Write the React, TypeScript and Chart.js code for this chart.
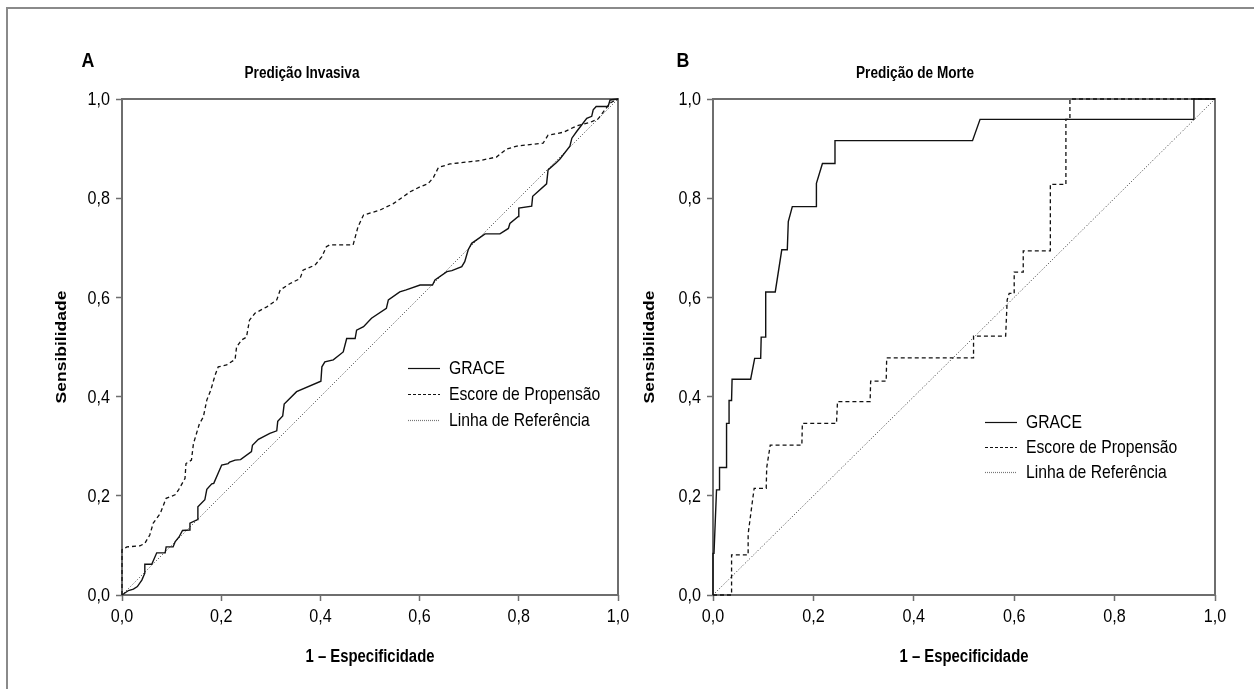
import React, { useEffect, useRef } from 'react';
import { Chart, registerables } from 'chart.js';

Chart.register(...registerables);

// ---------- data ----------
const tickValues = [0, 0.2, 0.4, 0.6, 0.8, 1.0];
const tickLabels = ['0,0', '0,2', '0,4', '0,6', '0,8', '1,0'];
const seriesNames = ['GRACE', 'Escore de Propensão', 'Linha de Referência'];
const xAxisTitle = '1 – Especificidade';
const yAxisTitle = 'Sensibilidade';
const panelLetters = ['A', 'B'];
const panelTitles = ['Predição Invasiva', 'Predição de Morte'];

const graceA_fpr = [0, 0.013, 0.023, 0.031, 0.040, 0.046, 0.046, 0.060, 0.070, 0.087, 0.089, 0.103, 0.107, 0.115, 0.122, 0.136, 0.137, 0.152, 0.153, 0.167, 0.171, 0.181, 0.185, 0.201, 0.214, 0.217, 0.228, 0.239, 0.261, 0.263, 0.275, 0.298, 0.312, 0.314, 0.324, 0.327, 0.352, 0.401, 0.403, 0.409, 0.426, 0.446, 0.453, 0.470, 0.473, 0.487, 0.503, 0.533, 0.537, 0.560, 0.573, 0.601, 0.626, 0.631, 0.655, 0.665, 0.685, 0.691, 0.698, 0.705, 0.732, 0.762, 0.779, 0.782, 0.799, 0.800, 0.826, 0.828, 0.856, 0.859, 0.876, 0.883, 0.903, 0.907, 0.917, 0.937, 0.947, 0.950, 0.956, 0.980, 0.984, 1];
const graceA_tpr = [0, 0.009, 0.012, 0.017, 0.030, 0.044, 0.062, 0.062, 0.085, 0.085, 0.097, 0.097, 0.107, 0.117, 0.130, 0.131, 0.145, 0.152, 0.178, 0.192, 0.213, 0.224, 0.225, 0.262, 0.265, 0.268, 0.272, 0.273, 0.289, 0.302, 0.314, 0.326, 0.331, 0.350, 0.361, 0.385, 0.410, 0.431, 0.460, 0.470, 0.474, 0.490, 0.517, 0.517, 0.534, 0.541, 0.558, 0.578, 0.595, 0.611, 0.615, 0.625, 0.625, 0.635, 0.652, 0.654, 0.662, 0.672, 0.696, 0.709, 0.728, 0.728, 0.739, 0.749, 0.763, 0.780, 0.784, 0.804, 0.829, 0.857, 0.872, 0.879, 0.905, 0.921, 0.935, 0.961, 0.965, 0.978, 0.985, 0.985, 0.998, 1];

const escoreA_fpr = [0, 0, 0.010, 0.036, 0.046, 0.056, 0.063, 0.077, 0.089, 0.107, 0.114, 0.127, 0.129, 0.140, 0.144, 0.156, 0.164, 0.171, 0.179, 0.185, 0.188, 0.194, 0.211, 0.228, 0.231, 0.241, 0.251, 0.257, 0.268, 0.292, 0.312, 0.319, 0.339, 0.359, 0.365, 0.389, 0.403, 0.412, 0.419, 0.466, 0.476, 0.487, 0.520, 0.547, 0.581, 0.601, 0.617, 0.628, 0.638, 0.661, 0.722, 0.755, 0.775, 0.796, 0.849, 0.859, 0.890, 0.917, 0.944, 0.960, 0.984, 1];
const escoreA_tpr = [0, 0.091, 0.097, 0.099, 0.104, 0.121, 0.145, 0.164, 0.195, 0.202, 0.212, 0.235, 0.265, 0.272, 0.305, 0.345, 0.359, 0.393, 0.413, 0.434, 0.444, 0.460, 0.464, 0.475, 0.500, 0.514, 0.520, 0.554, 0.568, 0.581, 0.595, 0.615, 0.628, 0.638, 0.655, 0.665, 0.682, 0.702, 0.706, 0.706, 0.743, 0.766, 0.776, 0.789, 0.813, 0.823, 0.829, 0.842, 0.862, 0.869, 0.876, 0.883, 0.899, 0.905, 0.911, 0.927, 0.933, 0.946, 0.953, 0.960, 0.992, 1];

const graceB_fpr = [0, 0, 0.002, 0.007, 0.013, 0.013, 0.026, 0.027, 0.032, 0.032, 0.037, 0.038, 0.075, 0.083, 0.095, 0.096, 0.104, 0.105, 0.124, 0.137, 0.148, 0.150, 0.158, 0.206, 0.206, 0.218, 0.242, 0.243, 0.517, 0.532, 0.958, 0.958, 1];
const graceB_tpr = [0, 0.084, 0.084, 0.212, 0.212, 0.257, 0.257, 0.346, 0.346, 0.392, 0.392, 0.435, 0.435, 0.477, 0.477, 0.520, 0.520, 0.611, 0.611, 0.696, 0.696, 0.753, 0.783, 0.783, 0.830, 0.870, 0.870, 0.916, 0.916, 0.959, 0.959, 1.0, 1];

const escoreB_fpr = [0, 0.037, 0.037, 0.070, 0.070, 0.078, 0.082, 0.106, 0.107, 0.114, 0.177, 0.178, 0.246, 0.248, 0.313, 0.314, 0.345, 0.346, 0.519, 0.519, 0.583, 0.586, 0.590, 0.600, 0.600, 0.618, 0.618, 0.672, 0.672, 0.703, 0.703, 0.711, 0.711, 1];
const escoreB_tpr = [0, 0, 0.081, 0.081, 0.123, 0.185, 0.215, 0.215, 0.257, 0.302, 0.302, 0.346, 0.346, 0.390, 0.390, 0.431, 0.431, 0.478, 0.478, 0.522, 0.522, 0.595, 0.608, 0.608, 0.651, 0.651, 0.694, 0.694, 0.828, 0.828, 0.959, 0.959, 1.0, 1];

const ref_fpr = [0, 1];
const ref_tpr = [0, 1];

// ---------- styling ----------
const FONT = "'Liberation Sans', Arial, sans-serif";
const SX = 0.85; // horizontal condensing of text (the figure is horizontally squeezed)
const AXIS_GRAY = '#6e6e6e';
const CANVAS_H = 689;
const PLOT_TOP = 99;
const PLOT_BOTTOM = 595;

const toPoints = (xs: number[], ys: number[]) => xs.map((x, i) => ({ x, y: ys[i] }));

type Panel = {
  canvasLeft: number;
  width: number;
  plotLeft: number;
  plotRight: number;
  yTitleCenter: number;
  letterPos: [number, number];
  titlePos: [number, number];
  legendLine: [number, number];
  legendTextX: number;
  legendRows: number[];
  letter: string;
  title: string;
  grace: { x: number[]; y: number[] };
  escore: { x: number[]; y: number[] };
};

const panels: Panel[] = [
  {
    canvasLeft: 0, width: 630, plotLeft: 122, plotRight: 618, yTitleCenter: 62,
    letterPos: [88, 61], titlePos: [302, 74],
    legendLine: [408, 440], legendTextX: 449, legendRows: [368, 394, 420],
    letter: panelLetters[0], title: panelTitles[0],
    grace: { x: graceA_fpr, y: graceA_tpr }, escore: { x: escoreA_fpr, y: escoreA_tpr },
  },
  {
    canvasLeft: 630, width: 624, plotLeft: 83, plotRight: 585, yTitleCenter: 20,
    letterPos: [53, 61], titlePos: [285, 74],
    legendLine: [355, 387], legendTextX: 396, legendRows: [422, 447, 472],
    letter: panelLetters[1], title: panelTitles[1],
    grace: { x: graceB_fpr, y: graceB_tpr }, escore: { x: escoreB_fpr, y: escoreB_tpr },
  },
];

function drawText(
  ctx: CanvasRenderingContext2D, text: string, x: number, y: number,
  font: string, align: CanvasTextAlign, rotation = 0,
) {
  ctx.save();
  ctx.translate(x, y);
  ctx.scale(SX, 1);
  if (rotation) ctx.rotate(rotation);
  ctx.font = font;
  ctx.fillStyle = '#000';
  ctx.textAlign = align;
  ctx.textBaseline = 'middle';
  ctx.fillText(text, 0, 0);
  ctx.restore();
}

const decorPlugin = {
  id: 'decor',
  beforeDatasetsDraw(chart: any) {
    const { ctx, chartArea: a } = chart;
    ctx.save();
    ctx.strokeStyle = AXIS_GRAY;
    ctx.lineWidth = 2;
    ctx.strokeRect(a.left, a.top, a.right - a.left, a.bottom - a.top);
    ctx.restore();
  },
  afterDraw(chart: any, _args: any, opts: any) {
    const p: Panel = opts.panel;
    const ctx: CanvasRenderingContext2D = chart.ctx;
    const a = chart.chartArea;
    const xs = chart.scales.x;
    const ys = chart.scales.y;

    // panel letter & title
    drawText(ctx, p.letter, p.letterPos[0], p.letterPos[1], `bold 21px ${FONT}`, 'center');
    drawText(ctx, p.title, p.titlePos[0], p.titlePos[1], `bold 16px ${FONT}`, 'center');

    // tick labels placed through the library scales
    tickValues.forEach((v, i) => {
      drawText(ctx, tickLabels[i], xs.getPixelForValue(v), a.bottom + 22, `19px ${FONT}`, 'center');
      drawText(ctx, tickLabels[i], a.left - 12, ys.getPixelForValue(v) + 1, `19px ${FONT}`, 'right');
    });

    // axis titles
    drawText(ctx, xAxisTitle, (a.left + a.right) / 2, 657, `bold 17.5px ${FONT}`, 'center');
    drawText(ctx, yAxisTitle, p.yTitleCenter, (a.top + a.bottom) / 2, `bold 17.5px ${FONT}`, 'center', -Math.PI / 2);

    // legend
    const dashes = [[], [3, 2], [1, 1]];
    const colors = ['#111', '#111', '#777'];
    seriesNames.forEach((name, i) => {
      const y = p.legendRows[i];
      ctx.save();
      ctx.beginPath();
      ctx.setLineDash(dashes[i]);
      ctx.strokeStyle = colors[i];
      ctx.lineWidth = 1.2;
      ctx.moveTo(p.legendLine[0], y + 0.5);
      ctx.lineTo(p.legendLine[1], y + 0.5);
      ctx.stroke();
      ctx.restore();
      drawText(ctx, name, p.legendTextX, y + 1, `18.5px ${FONT}`, 'left');
    });
  },
};

function buildConfig(p: Panel): any {
  return {
    type: 'line',
    data: {
      datasets: [
        {
          label: seriesNames[0], data: toPoints(p.grace.x, p.grace.y),
          borderColor: '#111', borderWidth: 1.4, pointRadius: 0, tension: 0, fill: false, clip: false,
        },
        {
          label: seriesNames[1], data: toPoints(p.escore.x, p.escore.y),
          borderColor: '#111', borderWidth: 1.3, borderDash: [4, 3], pointRadius: 0, tension: 0, fill: false, clip: false,
        },
        {
          label: seriesNames[2], data: toPoints(ref_fpr, ref_tpr),
          borderColor: '#333', borderWidth: 1, borderDash: [1, 2], pointRadius: 0, tension: 0, fill: false, clip: false,
        },
      ],
    },
    options: {
      animation: false,
      responsive: false,
      events: [],
      layout: { padding: { left: 0, top: PLOT_TOP, right: p.width - p.plotRight, bottom: 0 } },
      plugins: {
        legend: { display: false },
        tooltip: { enabled: false },
        title: { display: false },
        decor: { panel: p },
      },
      scales: {
        x: {
          type: 'linear', min: 0, max: 1,
          afterBuildTicks: (s: any) => { s.ticks = tickValues.map((v) => ({ value: v })); },
          afterFit: (s: any) => { s.height = CANVAS_H - PLOT_BOTTOM; s.paddingLeft = 0; s.paddingRight = 0; },
          ticks: { display: false },
          grid: { drawOnChartArea: false, drawTicks: true, tickLength: 6, tickColor: AXIS_GRAY, tickWidth: 1.5 },
          border: { display: false },
          title: { display: false },
        },
        y: {
          type: 'linear', min: 0, max: 1,
          afterBuildTicks: (s: any) => { s.ticks = tickValues.map((v) => ({ value: v })); },
          afterFit: (s: any) => { s.width = p.plotLeft; s.paddingTop = 0; s.paddingBottom = 0; },
          ticks: { display: false },
          grid: { drawOnChartArea: false, drawTicks: true, tickLength: 6, tickColor: AXIS_GRAY, tickWidth: 1.5 },
          border: { display: false },
          title: { display: false },
        },
      },
    },
    plugins: [decorPlugin],
  };
}

function RocPanel({ panel }: { panel: Panel }) {
  const ref = useRef<HTMLCanvasElement | null>(null);
  useEffect(() => {
    if (!ref.current) return;
    const chart = new Chart(ref.current, buildConfig(panel));
    return () => chart.destroy();
  }, [panel]);
  return (
    <canvas
      ref={ref}
      width={panel.width}
      height={CANVAS_H}
      style={{ position: 'absolute', left: panel.canvasLeft, top: 0, width: panel.width, height: CANVAS_H }}
    />
  );
}

export default function App() {
  return (
    <div style={{ position: 'absolute', left: 0, top: 0, width: 1254, height: 689, background: '#fff', overflow: 'hidden' }}>
      <div
        style={{
          position: 'absolute', left: 6, top: 7, width: 1260, height: 700,
          borderLeft: '2px solid #8a8a8a', borderTop: '2px solid #8a8a8a', boxSizing: 'border-box',
        }}
      />
      {panels.map((p) => (
        <RocPanel key={p.letter} panel={p} />
      ))}
    </div>
  );
}
